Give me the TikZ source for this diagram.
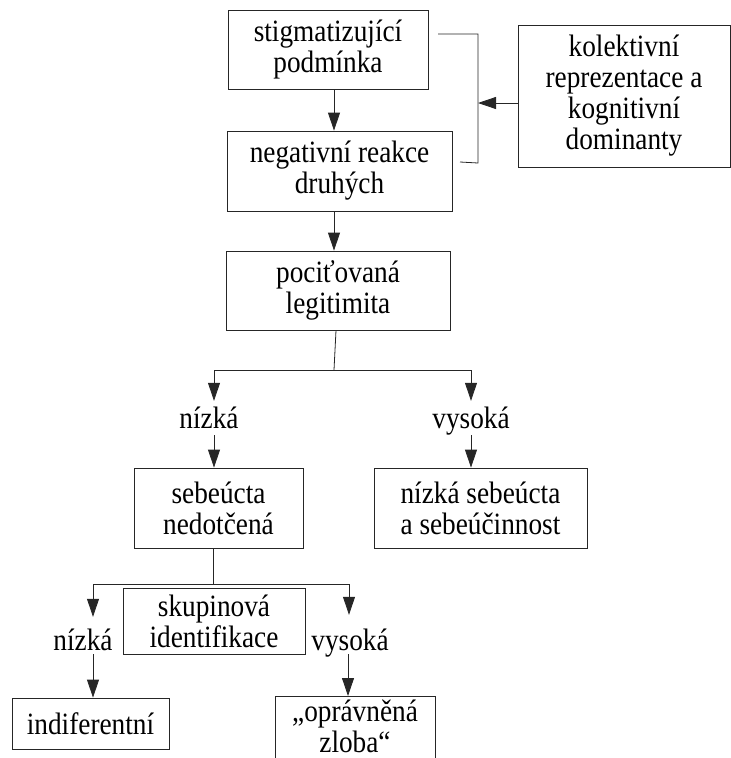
\documentclass[tikz,border=0pt]{standalone}
\usepackage{fontspec}
\setmainfont{Liberation Serif}[FakeStretch=0.88]
\usetikzlibrary{arrows.meta,calc}
\begin{document}
\begin{tikzpicture}[x=1pt,y=-1pt,
  every node/.style={font=\fontsize{31}{31}\selectfont},
  box/.style={draw=black!85,line width=0.8pt,align=center,inner sep=0pt},
  lbl/.style={inner sep=0pt,anchor=base},
  conn/.style={draw=black!85,line width=0.8pt},
  arr/.style={conn,-{Triangle[length=18pt,width=12pt]}}]
\useasboundingbox (0,0) rectangle (731,758);
\clip (0,0) rectangle (731,758);
% boxes
\node[box,minimum width=200pt,minimum height=79pt] (b1) at (328,49.5) {stigmatizující\\podmínka};
\node[box,minimum width=225pt,minimum height=80pt] (b2) at (339.5,171) {negativní reakce\\druhých};
\node[box,minimum width=212pt,minimum height=142pt] (b3) at (624,96) {kolektivní\\reprezentace a\\kognitivní\\dominanty};
\node[box,minimum width=224pt,minimum height=79pt] (b4) at (338,290.5) {pociťovaná\\legitimita};
\node[box,minimum width=169pt,minimum height=80pt] (b5) at (218.5,508) {sebeúcta\\nedotčená};
\node[box,minimum width=213pt,minimum height=80pt] (b6) at (480.5,508) {nízká sebeúcta\\a sebeúčinnost};
\node[box,minimum width=182pt,minimum height=66pt] (b7) at (214,621) {skupinová\\identifikace};
\node[box,minimum width=157pt,minimum height=51pt] (b8) at (90.5,723.5) {indiferentní};
\node[box,minimum width=160pt,anchor=north,inner ysep=0pt,text depth=16pt] (b9) at (355,696) {\rule{0pt}{25pt}„oprávněná\\zloba“};
% labels
\node[lbl,text height=27pt,text depth=7pt] (n1) at (209,428) {nízká};
\node[lbl,text height=27pt,text depth=7pt] (v1) at (471,428) {vysoká};
\node[lbl,text height=33pt,text depth=4pt] (n2) at (83,650) {nízká};
\node[lbl,text height=35pt,text depth=4pt] (v2) at (350,650) {vysoká};
% coordinates
\coordinate (j1) at (334,370);
\coordinate (h1l) at (214,370);
\coordinate (h1r) at (471,370);
\coordinate (j2) at (213,584);
\coordinate (h2l) at (93,584);
\coordinate (h2r) at (349,584);
\coordinate (k1) at (438,34);
\coordinate (k2) at (478,34);
\coordinate (k3) at (478,163);
\coordinate (k4) at (460,162);
\coordinate (kb) at (478,103);
% connectors
\draw[arr] ([xshift=6pt]b1.south) -- ([xshift=6pt]b1.south |- b2.north);
\draw[arr] ([xshift=-5.5pt]b2.south) -- ([xshift=-5.5pt]b2.south |- b4.north);
\draw[conn] (k1) -- (k2) -- (k3) -- (k4);
\draw[arr] (b3.west |- kb) -- (kb);
\draw[conn] ([xshift=-2pt]b4.south) -- (j1);
\draw[conn] (h1l) -- (h1r);
\draw[arr] (h1l) -- (h1l |- n1.north);
\draw[arr] (h1r) -- (h1r |- v1.north);
\draw[arr] (h1l |- n1.south) -- (h1l |- b5.north);
\draw[arr] (h1r |- v1.south) -- (h1r |- b6.north);
\draw[conn] (j2 |- b5.south) -- (j2);
\draw[conn] (h2l) -- (h2r);
\draw[arr] (h2l) -- (h2l |- n2.north);
\draw[arr] (h2r) -- (h2r |- v2.north);
\draw[arr] (h2l |- n2.south) -- (h2l |- b8.north);
\draw[arr] ([xshift=-1pt]h2r |- v2.south) -- ([xshift=-1pt]h2r |- b9.north);
\end{tikzpicture}
\end{document}
